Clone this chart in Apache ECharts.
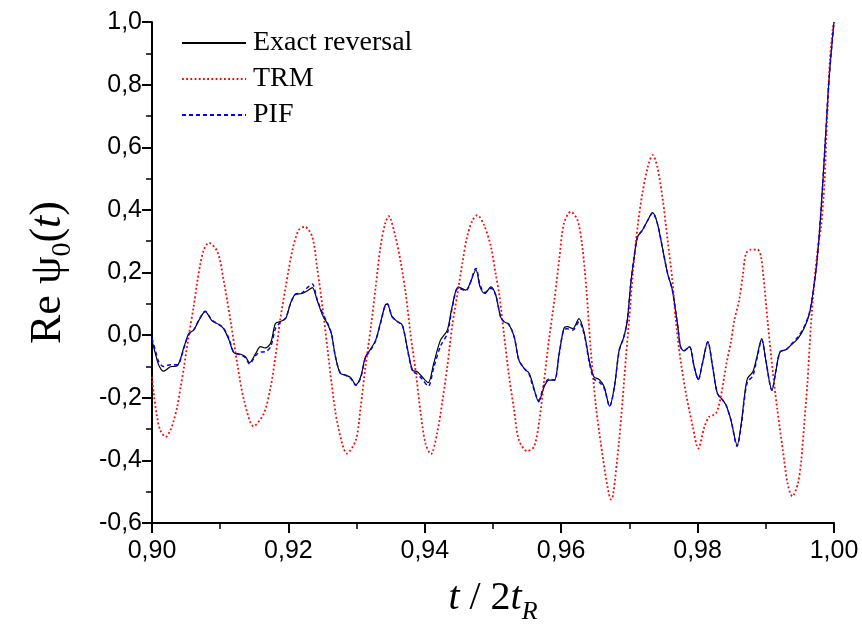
<!DOCTYPE html>
<html>
<head>
<meta charset="utf-8">
<script src="https://cdn.jsdelivr.net/npm/echarts@6/dist/echarts.min.js"></script>
<style>
  html, body { margin: 0; padding: 0; background: #ffffff; }
  #chart { width: 862px; height: 628px; }
</style>
</head>
<body>
<div id="chart"></div>
<script>
// Time axis t / 2t_R shared by the exact reversal and PIF curves
const tGrid = [
  0.9000, 0.9005, 0.9010, 0.9017, 0.9027, 0.9037, 0.9047, 0.9054, 0.9061, 0.9069,
  0.9078, 0.9088, 0.9098, 0.9105, 0.9113, 0.9120, 0.9130, 0.9137, 0.9143, 0.9152,
  0.9159, 0.9166, 0.9174, 0.9181, 0.9188, 0.9196, 0.9203, 0.9210, 0.9220, 0.9228,
  0.9235, 0.9242, 0.9250, 0.9257, 0.9263, 0.9269, 0.9276, 0.9284, 0.9291, 0.9299,
  0.9306, 0.9313, 0.9321, 0.9328, 0.9335, 0.9342, 0.9345, 0.9352, 0.9360, 0.9367,
  0.9374, 0.9382, 0.9389, 0.9396, 0.9405, 0.9413, 0.9423, 0.9433, 0.9440, 0.9449,
  0.9460, 0.9475, 0.9481, 0.9488, 0.9497, 0.9504, 0.9511, 0.9516, 0.9523, 0.9531,
  0.9538, 0.9546, 0.9553, 0.9558, 0.9567, 0.9575, 0.9582, 0.9590, 0.9597, 0.9604,
  0.9609, 0.9617, 0.9626, 0.9634, 0.9641, 0.9648, 0.9656, 0.9663, 0.9671, 0.9678,
  0.9685, 0.9692, 0.9697, 0.9702, 0.9707, 0.9712, 0.9719, 0.9727, 0.9734, 0.9741,
  0.9749, 0.9756, 0.9763, 0.9771, 0.9775, 0.9780, 0.9788, 0.9795, 0.9801, 0.9807,
  0.9815, 0.9822, 0.9829, 0.9837, 0.9842, 0.9849, 0.9858, 0.9864, 0.9868, 0.9873,
  0.9881, 0.9887, 0.9894, 0.9900, 0.9909, 0.9915, 0.9921, 0.9930, 0.9937, 0.9947,
  0.9956, 0.9964, 0.9969, 0.9975, 0.9981, 0.9987, 0.9993, 1.0000
];

// Re psi_0(t) for the exact time reversal
const exactReversal = [
  -0.017, -0.059, -0.096, -0.115, -0.101, -0.098, -0.037, 0.005, 0.016, 0.048,
  0.075, 0.046, 0.034, 0.021, -0.016, -0.056, -0.061, -0.069, -0.088, -0.059,
  -0.037, -0.041, -0.025, 0.037, 0.043, 0.053, 0.101, 0.130, 0.133, 0.142,
  0.152, 0.112, 0.064, 0.037, 0.005, -0.069, -0.122, -0.128, -0.135, -0.158,
  -0.133, -0.069, -0.043, -0.016, 0.040, 0.096, 0.099, 0.059, 0.043, 0.032,
  -0.037, -0.112, -0.117, -0.133, -0.152, -0.091, -0.016, 0.016, 0.090, 0.154,
  0.144, 0.208, 0.154, 0.133, 0.154, 0.128, 0.059, 0.043, 0.035, -0.005,
  -0.080, -0.107, -0.122, -0.154, -0.213, -0.165, -0.144, -0.144, -0.059, 0.021,
  0.027, 0.021, 0.053, 0.005, -0.080, -0.133, -0.142, -0.165, -0.227, -0.165,
  -0.048, -0.005, 0.048, 0.165, 0.250, 0.314, 0.335, 0.367, 0.391, 0.357,
  0.272, 0.197, 0.144, 0.027, -0.037, -0.050, -0.037, -0.101, -0.142, -0.091,
  -0.021, -0.101, -0.186, -0.208, -0.225, -0.272, -0.351, -0.282, -0.208, -0.139,
  -0.117, -0.069, -0.011, -0.080, -0.176, -0.112, -0.053, -0.046, -0.032, -0.011,
  0.021, 0.069, 0.133, 0.235, 0.400, 0.612, 0.825, 1.000
];

// Re psi_0(t) for the PIF reconstruction
const pifValues = [
  -0.010, -0.050, -0.085, -0.100, -0.095, -0.095, -0.040, 0.003, 0.016, 0.050,
  0.076, 0.048, 0.034, 0.022, -0.012, -0.055, -0.063, -0.072, -0.092, -0.065,
  -0.054, -0.053, -0.037, 0.021, 0.040, 0.055, 0.100, 0.130, 0.135, 0.152,
  0.163, 0.115, 0.070, 0.040, 0.005, -0.069, -0.120, -0.128, -0.138, -0.160,
  -0.136, -0.072, -0.046, -0.018, 0.038, 0.096, 0.100, 0.059, 0.043, 0.032,
  -0.040, -0.115, -0.125, -0.140, -0.163, -0.105, -0.035, 0.005, 0.085, 0.150,
  0.142, 0.213, 0.160, 0.136, 0.150, 0.128, 0.059, 0.043, 0.035, -0.005,
  -0.080, -0.107, -0.125, -0.160, -0.208, -0.160, -0.140, -0.144, -0.062, 0.018,
  0.020, 0.016, 0.043, 0.000, -0.085, -0.140, -0.150, -0.170, -0.227, -0.165,
  -0.050, -0.005, 0.048, 0.165, 0.250, 0.314, 0.335, 0.367, 0.391, 0.357,
  0.272, 0.197, 0.144, 0.027, -0.037, -0.050, -0.037, -0.101, -0.142, -0.091,
  -0.021, -0.101, -0.186, -0.208, -0.225, -0.272, -0.355, -0.290, -0.215, -0.150,
  -0.130, -0.075, -0.015, -0.080, -0.176, -0.112, -0.053, -0.046, -0.030, -0.006,
  0.025, 0.072, 0.133, 0.235, 0.400, 0.612, 0.825, 1.000
];

// Time axis and values of the TRM curve
const trmT = [
  0.9000, 0.90025, 0.90075, 0.9012, 0.9020, 0.9027, 0.9032, 0.9037, 0.9042, 0.9047,
  0.9054, 0.9061, 0.9066, 0.9071, 0.9076, 0.9083, 0.9096, 0.9105, 0.9115, 0.9125,
  0.9135, 0.9149, 0.9164, 0.9174, 0.9181, 0.9188, 0.9196, 0.9206, 0.9215, 0.9224,
  0.9235, 0.9242, 0.9250, 0.9257, 0.9264, 0.9272, 0.9286, 0.9299, 0.9306, 0.9313,
  0.9321, 0.9328, 0.9335, 0.9342, 0.9347, 0.9357, 0.9365, 0.9372, 0.9379, 0.9387,
  0.9394, 0.9401, 0.9409, 0.9418, 0.9426, 0.9433, 0.9440, 0.9448, 0.9455, 0.9462,
  0.9470, 0.9477, 0.9487, 0.9497, 0.9504, 0.9509, 0.9516, 0.9523, 0.9531, 0.9538,
  0.9550, 0.9560, 0.9568, 0.9575, 0.9582, 0.9590, 0.9597, 0.9604, 0.9614, 0.9624,
  0.9631, 0.9637, 0.9643, 0.9651, 0.9661, 0.9668, 0.9673, 0.9676, 0.9685, 0.9690,
  0.9695, 0.9700, 0.9705, 0.9712, 0.9719, 0.9727, 0.9734, 0.9741, 0.9749, 0.9756,
  0.9763, 0.9768, 0.9775, 0.9783, 0.9793, 0.9801, 0.9810, 0.9817, 0.9827, 0.9834,
  0.9842, 0.9849, 0.9854, 0.9861, 0.9866, 0.9871, 0.9878, 0.9888, 0.9893, 0.9898,
  0.9903, 0.9910, 0.9917, 0.9925, 0.9932, 0.9939, 0.9947, 0.9952, 0.9956, 0.9961,
  0.9966, 0.9971, 0.9976, 0.9981, 0.9986, 0.9990, 0.9994, 0.9998, 1.0000
];
const trmValues = [
  -0.133, -0.186, -0.261, -0.303, -0.325, -0.304, -0.272, -0.229, -0.165, -0.101,
  0.000, 0.090, 0.165, 0.229, 0.272, 0.295, 0.266, 0.176, 0.048, -0.091,
  -0.208, -0.291, -0.250, -0.165, -0.069, 0.048, 0.154, 0.272, 0.335, 0.346,
  0.314, 0.218, 0.090, -0.037, -0.165, -0.282, -0.378, -0.335, -0.229, -0.101,
  0.027, 0.154, 0.282, 0.357, 0.380, 0.314, 0.229, 0.133, 0.005, -0.122,
  -0.250, -0.346, -0.380, -0.314, -0.208, -0.101, 0.027, 0.133, 0.229, 0.314,
  0.367, 0.383, 0.351, 0.282, 0.195, 0.133, 0.005, -0.122, -0.240, -0.335,
  -0.370, -0.357, -0.272, -0.144, -0.016, 0.112, 0.240, 0.357, 0.394, 0.367,
  0.282, 0.144, -0.037, -0.229, -0.389, -0.485, -0.525, -0.512, -0.335, -0.208,
  -0.069, 0.059, 0.197, 0.346, 0.452, 0.537, 0.575, 0.537, 0.431, 0.304,
  0.176, 0.048, -0.080, -0.186, -0.293, -0.362, -0.293, -0.261, -0.250, -0.197,
  -0.095, -0.020, 0.048, 0.112, 0.186, 0.261, 0.273, 0.273, 0.250, 0.154,
  0.037, -0.112, -0.240, -0.367, -0.474, -0.515, -0.474, -0.399, -0.293, -0.154,
  0.027, 0.165, 0.272, 0.346, 0.484, 0.697, 0.878, 0.974, 1.000
];

const seriesNames = ['Exact reversal', 'TRM', 'PIF'];
const xRange = [0.90, 1.00], xStep = 0.02;
const yRange = [-0.6, 1.0], yStep = 0.2;

const pairs = (xs, ys) => xs.map((x, i) => [x, ys[i]]);
const commaFixed = (v, d) => {
  const n = Math.abs(v) < 1e-9 ? 0 : v;
  return n.toFixed(d).replace('.', ',');
};

const tickFont = { fontFamily: '"Liberation Sans", Arial, sans-serif', fontSize: 25, color: '#000' };
const serif = '"Liberation Serif", "Times New Roman", serif';

const axisCommon = {
  axisLine: { show: true, onZero: false, lineStyle: { color: '#000', width: 2 } },
  axisTick: { show: true, inside: false, length: 10, lineStyle: { color: '#000', width: 2 } },
  minorTick: { show: true, splitNumber: 2, length: 6, lineStyle: { color: '#000', width: 1.5 } },
  splitLine: { show: false },
  minorSplitLine: { show: false }
};

const chart = echarts.init(document.getElementById('chart'), null, { renderer: 'canvas' });
chart.setOption({
  animation: false,
  backgroundColor: '#ffffff',
  grid: { left: 152, right: 28, top: 22, bottom: 105, containLabel: false, outerBoundsMode: 'none' },
  legend: {
    data: seriesNames,
    orient: 'vertical',
    left: 181,
    top: 29,
    padding: 0,
    itemWidth: 64,
    itemHeight: 14,
    itemGap: 8,
    selectedMode: false,
    itemStyle: { opacity: 0 },
    textStyle: { fontFamily: serif, fontSize: 28, color: '#000', padding: [0, 0, 0, 2] }
  },
  xAxis: Object.assign({
    type: 'value',
    min: xRange[0],
    max: xRange[1],
    interval: xStep,
    axisLabel: Object.assign({ margin: 16, formatter: v => commaFixed(v, 2) }, tickFont),
    name: '{i|t}{n| / 2}{i|t}{sub|R}',
    nameLocation: 'middle',
    nameGap: 48,
    nameTextStyle: {
      rich: {
        i: { fontFamily: serif, fontStyle: 'italic', fontSize: 40, lineHeight: 54, color: '#000' },
        n: { fontFamily: serif, fontSize: 40, lineHeight: 54, color: '#000' },
        sub: { fontFamily: serif, fontStyle: 'italic', fontSize: 26, lineHeight: 26, verticalAlign: 'bottom', color: '#000' }
      }
    }
  }, axisCommon),
  yAxis: Object.assign({
    type: 'value',
    min: yRange[0],
    max: yRange[1],
    interval: yStep,
    axisLabel: Object.assign({ margin: 10, formatter: v => commaFixed(v, 1) }, tickFont),
    name: '{n|Re ψ}{sub|0}{n|(}{i|t}{n|)}',
    nameLocation: 'middle',
    nameRotate: 90,
    nameGap: 75,
    nameTextStyle: {
      rich: {
        i: { fontFamily: serif, fontStyle: 'italic', fontSize: 44, lineHeight: 58, color: '#000' },
        n: { fontFamily: serif, fontSize: 44, lineHeight: 58, color: '#000' },
        sub: { fontFamily: serif, fontSize: 28, lineHeight: 28, verticalAlign: 'bottom', color: '#000' }
      }
    }
  }, axisCommon),
  series: [
    {
      name: seriesNames[0], type: 'line', data: pairs(tGrid, exactReversal),
      symbol: 'none', showSymbol: false, smooth: 0.3, z: 2,
      lineStyle: { color: '#000000', width: 1.2 }, itemStyle: { color: '#000000' }
    },
    {
      name: seriesNames[1], type: 'line', data: pairs(trmT, trmValues),
      symbol: 'none', showSymbol: false, smooth: 0.3, z: 3,
      lineStyle: { color: '#ff0000', width: 1.8, type: [1.8, 2.4] }, itemStyle: { color: '#ff0000' }
    },
    {
      name: seriesNames[2], type: 'line', data: pairs(tGrid, pifValues),
      symbol: 'none', showSymbol: false, smooth: 0.3, z: 4,
      lineStyle: { color: '#0000ff', width: 1.5, type: [4, 3] }, itemStyle: { color: '#0000ff' }
    }
  ]
});
</script>
</body>
</html>
